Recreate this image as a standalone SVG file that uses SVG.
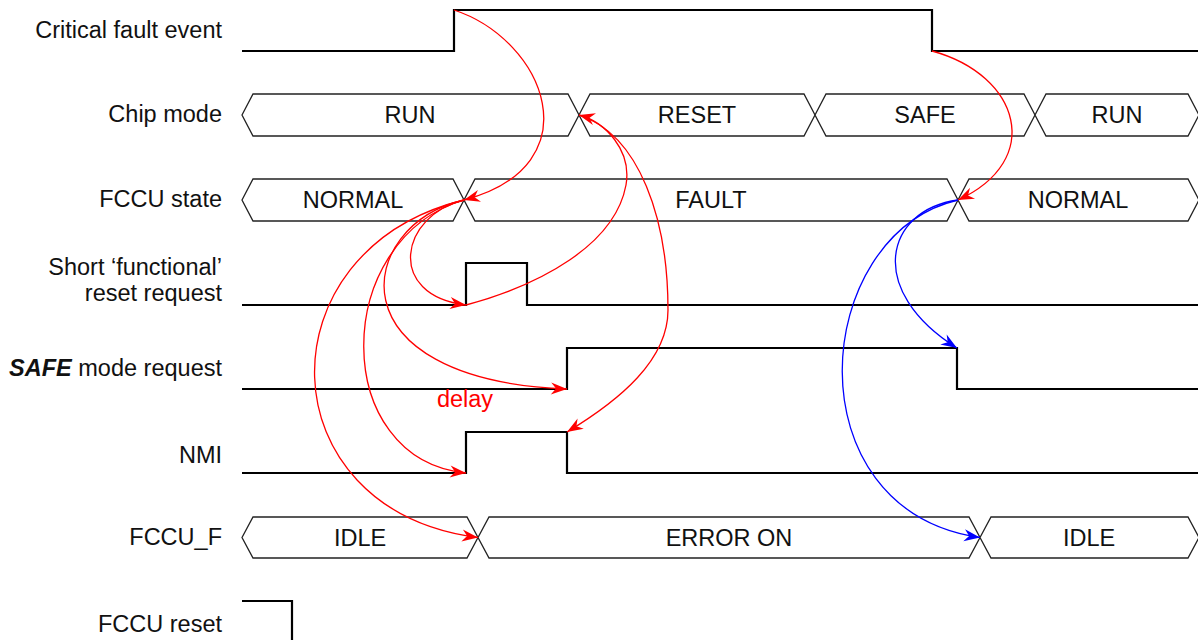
<svg xmlns="http://www.w3.org/2000/svg" width="1198" height="640" viewBox="0 0 1198 640">
<style>
text{font-family:"Liberation Sans",Arial,Helvetica,sans-serif;font-size:23.5px;fill:#111}
.lbl{text-anchor:end}
.bt{text-anchor:middle}
.sig{fill:none;stroke:#000;stroke-width:2.2}
.bus{fill:#fff;stroke:#222;stroke-width:1.3}
.r{fill:none;stroke:#f00;stroke-width:1.3}
.b{fill:none;stroke:#00f;stroke-width:1.3}
</style>
<defs>
<marker id="ar" markerUnits="userSpaceOnUse" markerWidth="18" markerHeight="12" refX="16" refY="6" orient="auto" overflow="visible"><path d="M0,0 L16,6 L0,12 L5,6 z" fill="#f00"/></marker>
<marker id="ab" markerUnits="userSpaceOnUse" markerWidth="18" markerHeight="12" refX="16" refY="6" orient="auto" overflow="visible"><path d="M0,0 L16,6 L0,12 L5,6 z" fill="#00f"/></marker>
</defs>
<rect width="1198" height="640" fill="#fff"/>
<g id="labels">
<text class="lbl" x="222" y="38">Critical fault event</text>
<text class="lbl" x="222" y="122">Chip mode</text>
<text class="lbl" x="222" y="207">FCCU state</text>
<text class="lbl" x="222" y="275">Short ‘functional’</text>
<text class="lbl" x="222" y="301">reset request</text>
<text class="lbl" x="222" y="376"><tspan font-weight="bold" font-style="italic">SAFE</tspan> mode request</text>
<text class="lbl" x="222" y="463">NMI</text>
<text class="lbl" x="222" y="545">FCCU_F</text>
<text class="lbl" x="222" y="632">FCCU reset</text>
</g>
<g id="critical-fault-event"><path class="sig" d="M242,51 H454 V10 H932 V51 H1198"/></g>
<g id="chip-mode">
<path class="bus" d="M242,115 L253,94 H568 L579,115 L568,136 H253 Z"/>
<path class="bus" d="M579,115 L590,94 H804 L815,115 L804,136 H590 Z"/>
<path class="bus" d="M815,115 L826,94 H1024 L1035,115 L1024,136 H826 Z"/>
<path class="bus" d="M1035,115 L1046,94 H1188 L1199,115 L1188,136 H1046 Z"/>
<text class="bt" x="410" y="123">RUN</text>
<text class="bt" x="697" y="123">RESET</text>
<text class="bt" x="925" y="123">SAFE</text>
<text class="bt" x="1117" y="123">RUN</text>
</g>
<g id="fccu-state">
<path class="bus" d="M242,200 L253,179 H453 L464,200 L453,221 H253 Z"/>
<path class="bus" d="M464,200 L475,179 H947 L958,200 L947,221 H475 Z"/>
<path class="bus" d="M958,200 L969,179 H1188 L1199,200 L1188,221 H969 Z"/>
<text class="bt" x="353" y="208">NORMAL</text>
<text class="bt" x="711" y="208">FAULT</text>
<text class="bt" x="1078" y="208">NORMAL</text>
</g>
<g id="short-reset-request"><path class="sig" d="M242,305 H466 V263 H527 V305 H1198"/></g>
<g id="safe-mode-request"><path class="sig" d="M242,389 H567 V348 H957 V389 H1198"/></g>
<g id="nmi"><path class="sig" d="M242,473 H466 V432 H567 V473 H1198"/></g>
<g id="fccu-f">
<path class="bus" d="M242,537.5 L253,517 H467 L478,537.5 L467,558 H253 Z"/>
<path class="bus" d="M478,537.5 L489,517 H969 L980,537.5 L969,558 H489 Z"/>
<path class="bus" d="M980,537.5 L991,517 H1188 L1199,537.5 L1188,558 H991 Z"/>
<text class="bt" x="360" y="546">IDLE</text>
<text class="bt" x="729" y="546">ERROR ON</text>
<text class="bt" x="1089" y="546">IDLE</text>
</g>
<g id="fccu-reset"><path class="sig" d="M242,601 H292 V640"/></g>
<g id="connectors">
<path class="r" marker-end="url(#ar)" d="M454,10 C545,40 595,165 464,200"/>
<path class="r" marker-end="url(#ar)" d="M932,51 C1020,75 1045,160 958,200"/>
<path class="r" marker-end="url(#ar)" d="M464,200 C400,215 385,295 466,305"/>
<path class="r" marker-end="url(#ar)" d="M464,200 C355,225 330,380 567,389"/>
<path class="r" marker-end="url(#ar)" d="M464,200 C330,240 330,460 466,473"/>
<path class="r" marker-end="url(#ar)" d="M464,200 C260,250 265,510 478,537.5"/>
<path class="r" marker-end="url(#ar)" d="M466,305 C540,285 615,245 626,185 C632,150 605,122 579,115"/>
<path class="r" marker-end="url(#ar)" d="M579,115 C640,135 668,220 668,310 C668,360 620,400 567,432"/>
<path class="b" marker-end="url(#ab)" d="M958,200 C885,210 865,290 957,348"/>
<path class="b" marker-end="url(#ab)" d="M958,200 C810,235 790,510 980,537.5"/>
<text x="465" y="407" class="bt" style="fill:#f00">delay</text>
</g>
</svg>
